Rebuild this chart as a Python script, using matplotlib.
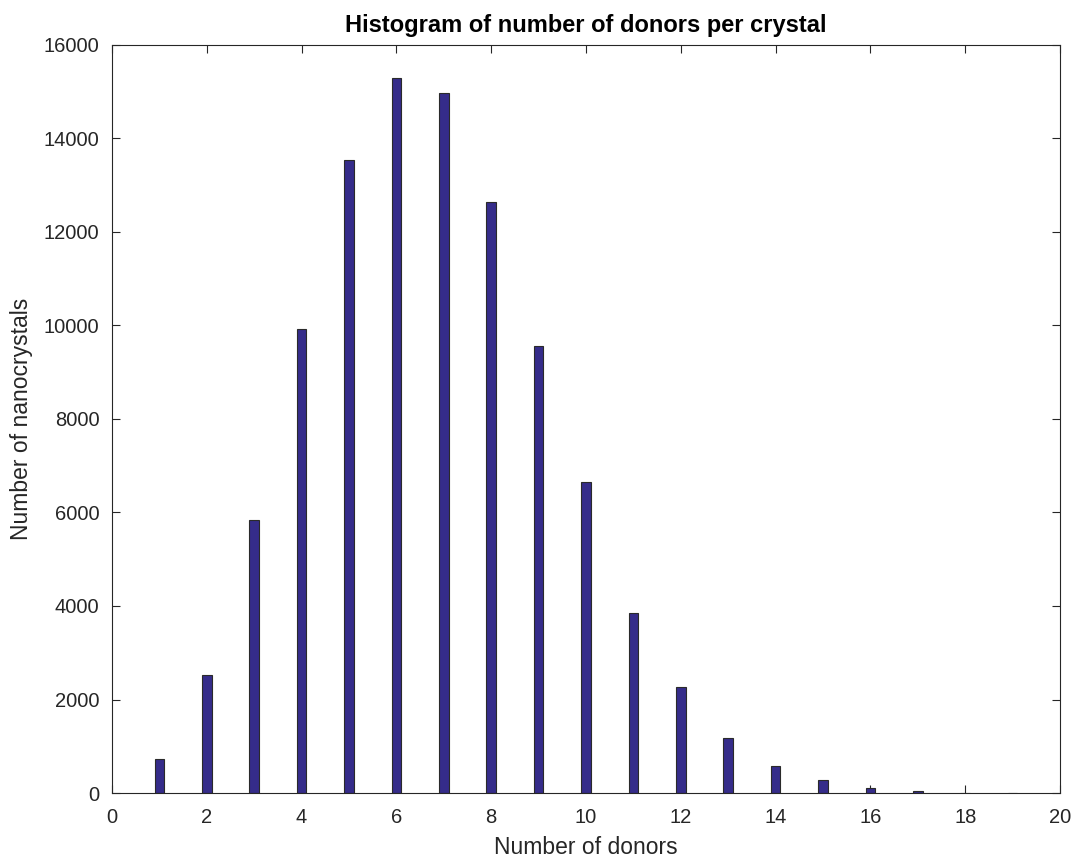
import matplotlib
matplotlib.use("Agg")
import matplotlib.pyplot as plt

# Number of donors per nanocrystal and the corresponding counts
donors = [1, 2, 3, 4, 5, 6, 7, 8, 9, 10, 11, 12, 13, 14, 15, 16, 17, 18, 19]
counts = [720, 2520, 5840, 9930, 13530, 15300, 14980, 12640, 9560, 6650,
          3860, 2260, 1170, 580, 270, 110, 40, 10, 5]

plt.rcParams['font.family'] = ['Liberation Sans', 'DejaVu Sans']
axis_color = '#262626'

fig = plt.figure(figsize=(10.73, 8.6), dpi=100)
ax = fig.add_axes([0.1044, 0.0779, 0.8835, 0.8698])

ax.bar(donors, counts, width=0.2, color='#352c8a', edgecolor='#2a2a2a',
       linewidth=0.8, zorder=2)

ax.set_xlim(0, 20)
ax.set_ylim(0, 16000)
ax.set_xticks(range(0, 21, 2))
ax.set_yticks(range(0, 16001, 2000))

ax.tick_params(direction='in', top=True, right=True, length=6, width=0.8,
               labelsize=14.5, colors=axis_color)
ax.tick_params(axis='x', pad=11)
ax.tick_params(axis='y', pad=9)
for s in ax.spines.values():
    s.set_color(axis_color)
    s.set_linewidth(0.8)

ax.set_xlabel('Number of donors', fontsize=16.5, color=axis_color, labelpad=6)
ax.set_ylabel('Number of nanocrystals', fontsize=16.5, color=axis_color, labelpad=8)
ax.set_title('Histogram of number of donors per crystal', fontsize=17,
             fontweight='bold', color='black', pad=9)

fig.savefig('out.png', dpi=100)
